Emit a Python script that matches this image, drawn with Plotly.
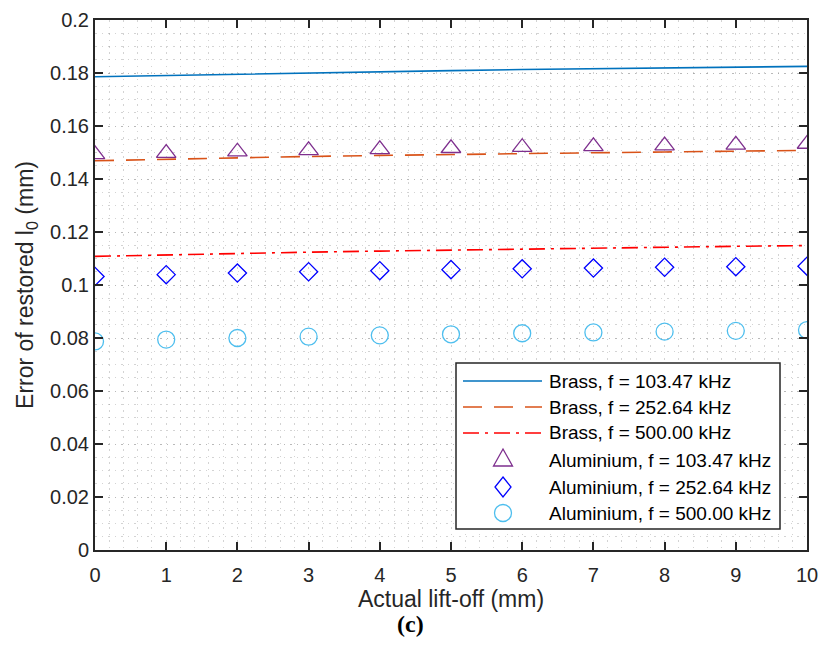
import plotly.graph_objects as go

# Actual lift-off (mm)
lift_off = [0, 1, 2, 3, 4, 5, 6, 7, 8, 9, 10]

# Error of restored l0 (mm), brass sample
brass_103 = [0.1786, 0.1791, 0.1796, 0.1801, 0.1805, 0.1809, 0.1813, 0.1816, 0.1819, 0.1822, 0.1825]
brass_252 = [0.1469, 0.1475, 0.1480, 0.1485, 0.1489, 0.1493, 0.1496, 0.1499, 0.1502, 0.1505, 0.1508]
brass_500 = [0.1108, 0.1114, 0.1119, 0.1124, 0.1128, 0.1132, 0.1136, 0.1140, 0.1143, 0.1146, 0.1149]

# Error of restored l0 (mm), aluminium sample
alu_103 = [0.1493, 0.1498, 0.1503, 0.1508, 0.1512, 0.1516, 0.1520, 0.1523, 0.1526, 0.1529, 0.1532]
alu_252 = [0.1032, 0.1039, 0.1045, 0.1050, 0.1054, 0.1058, 0.1061, 0.1064, 0.1067, 0.1069, 0.1071]
alu_500 = [0.0787, 0.0794, 0.0800, 0.0805, 0.0810, 0.0814, 0.0818, 0.0821, 0.0824, 0.0827, 0.0830]

y_ticks = [0, 0.02, 0.04, 0.06, 0.08, 0.1, 0.12, 0.14, 0.16, 0.18, 0.2]
y_tick_text = ["0", "0.02", "0.04", "0.06", "0.08", "0.1", "0.12", "0.14", "0.16", "0.18", "0.2"]

legend_labels = [
    "Brass, f = 103.47 kHz",
    "Brass, f = 252.64 kHz",
    "Brass, f = 500.00 kHz",
    "Aluminium, f = 103.47 kHz",
    "Aluminium, f = 252.64 kHz",
    "Aluminium, f = 500.00 kHz",
]

BLUE = "#0072BD"
ORANGE = "#D95319"
RED = "#FF0000"
PURPLE = "#7E2F8E"
DBLUE = "#0000FF"
CYAN = "#4DBEEE"
DASH = "19px,12px"
DASHDOT = "16px,6px,3px,6px"

W, H = 818, 646
L, R, T, B = 95, 11, 20, 96
PW, PH = W - L - R, H - T - B

FONT = "Liberation Sans, Arial, sans-serif"
TXT = "#262626"

fig = go.Figure()
fig.add_trace(go.Scatter(x=lift_off, y=brass_103, mode="lines",
                         line=dict(color=BLUE, width=1.6)))
fig.add_trace(go.Scatter(x=lift_off, y=brass_252, mode="lines",
                         line=dict(color=ORANGE, width=1.6, dash=DASH)))
fig.add_trace(go.Scatter(x=lift_off, y=brass_500, mode="lines",
                         line=dict(color=RED, width=1.6, dash=DASHDOT)))
fig.add_trace(go.Scatter(x=lift_off, y=alu_103, mode="markers",
                         marker=dict(symbol="triangle-up-open", size=17,
                                     color=PURPLE, line=dict(width=1.3))))
fig.add_trace(go.Scatter(x=lift_off, y=alu_252, mode="markers",
                         marker=dict(symbol="diamond-open", size=14,
                                     color=DBLUE, line=dict(width=1.3))))
fig.add_trace(go.Scatter(x=lift_off, y=alu_500, mode="markers",
                         marker=dict(symbol="circle-open", size=17,
                                     color=CYAN, line=dict(width=1.3))))

# faint dotted grid at every major and minor division
grid = dict(showgrid=True, gridcolor="rgba(150,150,150,0.42)", gridwidth=1,
            griddash="1.5px,5px")

fig.update_xaxes(range=[0, 10], dtick=1, tick0=0, ticks="inside", ticklen=8,
                 tickwidth=1.5, tickcolor="#262626", mirror="ticks", automargin=False,
                 ticklabeloverflow="allow", ticklabelstandoff=6,
                 showline=True, linecolor="#262626", linewidth=2,
                 zeroline=False, tickfont=dict(family=FONT, size=20, color=TXT),
                 title=dict(text="Actual lift-off (mm)", standoff=3,
                            font=dict(family=FONT, size=23, color=TXT)),
                 minor=dict(dtick=0.2, **grid), **grid)
fig.update_yaxes(range=[0, 0.2], tickvals=y_ticks, ticktext=y_tick_text,
                 ticks="inside", ticklen=8, tickwidth=1.5, tickcolor="#262626",
                 mirror="ticks", showline=True, linecolor="#262626", linewidth=2,
                 automargin=False, ticklabeloverflow="allow",
                 zeroline=False, tickfont=dict(family=FONT, size=20, color=TXT),
                 title=dict(text="Error of restored l<sub>0</sub> (mm)", standoff=10,
                            font=dict(family=FONT, size=23, color=TXT)),
                 minor=dict(tickvals=[i * 0.005 for i in range(41)], **grid), **grid)


def px(x):
    return (x - L) / PW


def py(y):
    return (H - B - y) / PH


# Legend box drawn as shapes and annotations
box = dict(x0=456, x1=780, y0=363, y1=529)
fig.add_shape(type="rect", xref="paper", yref="paper",
              x0=px(box["x0"]), x1=px(box["x1"]), y0=py(box["y1"]), y1=py(box["y0"]),
              line=dict(color="#262626", width=1.5), fillcolor="white", layer="above")

row_y = [381, 407, 433, 460, 487, 513]
line_styles = [(BLUE, "solid"), (ORANGE, DASH), (RED, DASHDOT)]
for i, (c, d) in enumerate(line_styles):
    fig.add_shape(type="line", xref="paper", yref="paper",
                  x0=px(463), x1=px(542), y0=py(row_y[i]), y1=py(row_y[i]),
                  line=dict(color=c, width=1.6, dash=d), layer="above")

mx = 503
# triangle
fig.add_shape(type="path", xref="paper", yref="paper", xsizemode="pixel", ysizemode="pixel",
              xanchor=px(mx), yanchor=py(row_y[3]),
              path="M -9.5,-6 L 9.5,-6 L 0,11 Z",
              line=dict(color=PURPLE, width=1.3), layer="above")
# diamond
fig.add_shape(type="path", xref="paper", yref="paper", xsizemode="pixel", ysizemode="pixel",
              xanchor=px(mx), yanchor=py(row_y[4]),
              path="M 0,10 L 8,0 L 0,-10 L -8,0 Z",
              line=dict(color=DBLUE, width=1.3), layer="above")
# circle
fig.add_shape(type="circle", xref="paper", yref="paper", xsizemode="pixel", ysizemode="pixel",
              xanchor=px(mx), yanchor=py(row_y[5]),
              x0=-8.5, x1=8.5, y0=-8.5, y1=8.5,
              line=dict(color=CYAN, width=1.3), layer="above")

for i, lab in enumerate(legend_labels):
    fig.add_annotation(text=lab, xref="paper", yref="paper", x=px(547), y=py(row_y[i]),
                       xanchor="left", yanchor="middle", showarrow=False,
                       font=dict(family=FONT, size=19, color="black"))

fig.add_annotation(text="<b>(c)</b>", xref="paper", yref="paper", x=px(410), y=py(624),
                   xanchor="center", yanchor="middle", showarrow=False,
                   font=dict(family="Liberation Serif, serif", size=24, color="black"))

fig.update_layout(width=W, height=H, margin=dict(l=L, r=R, t=T, b=B),
                  paper_bgcolor="white", plot_bgcolor="white", showlegend=False)

fig.write_html("out.html")
